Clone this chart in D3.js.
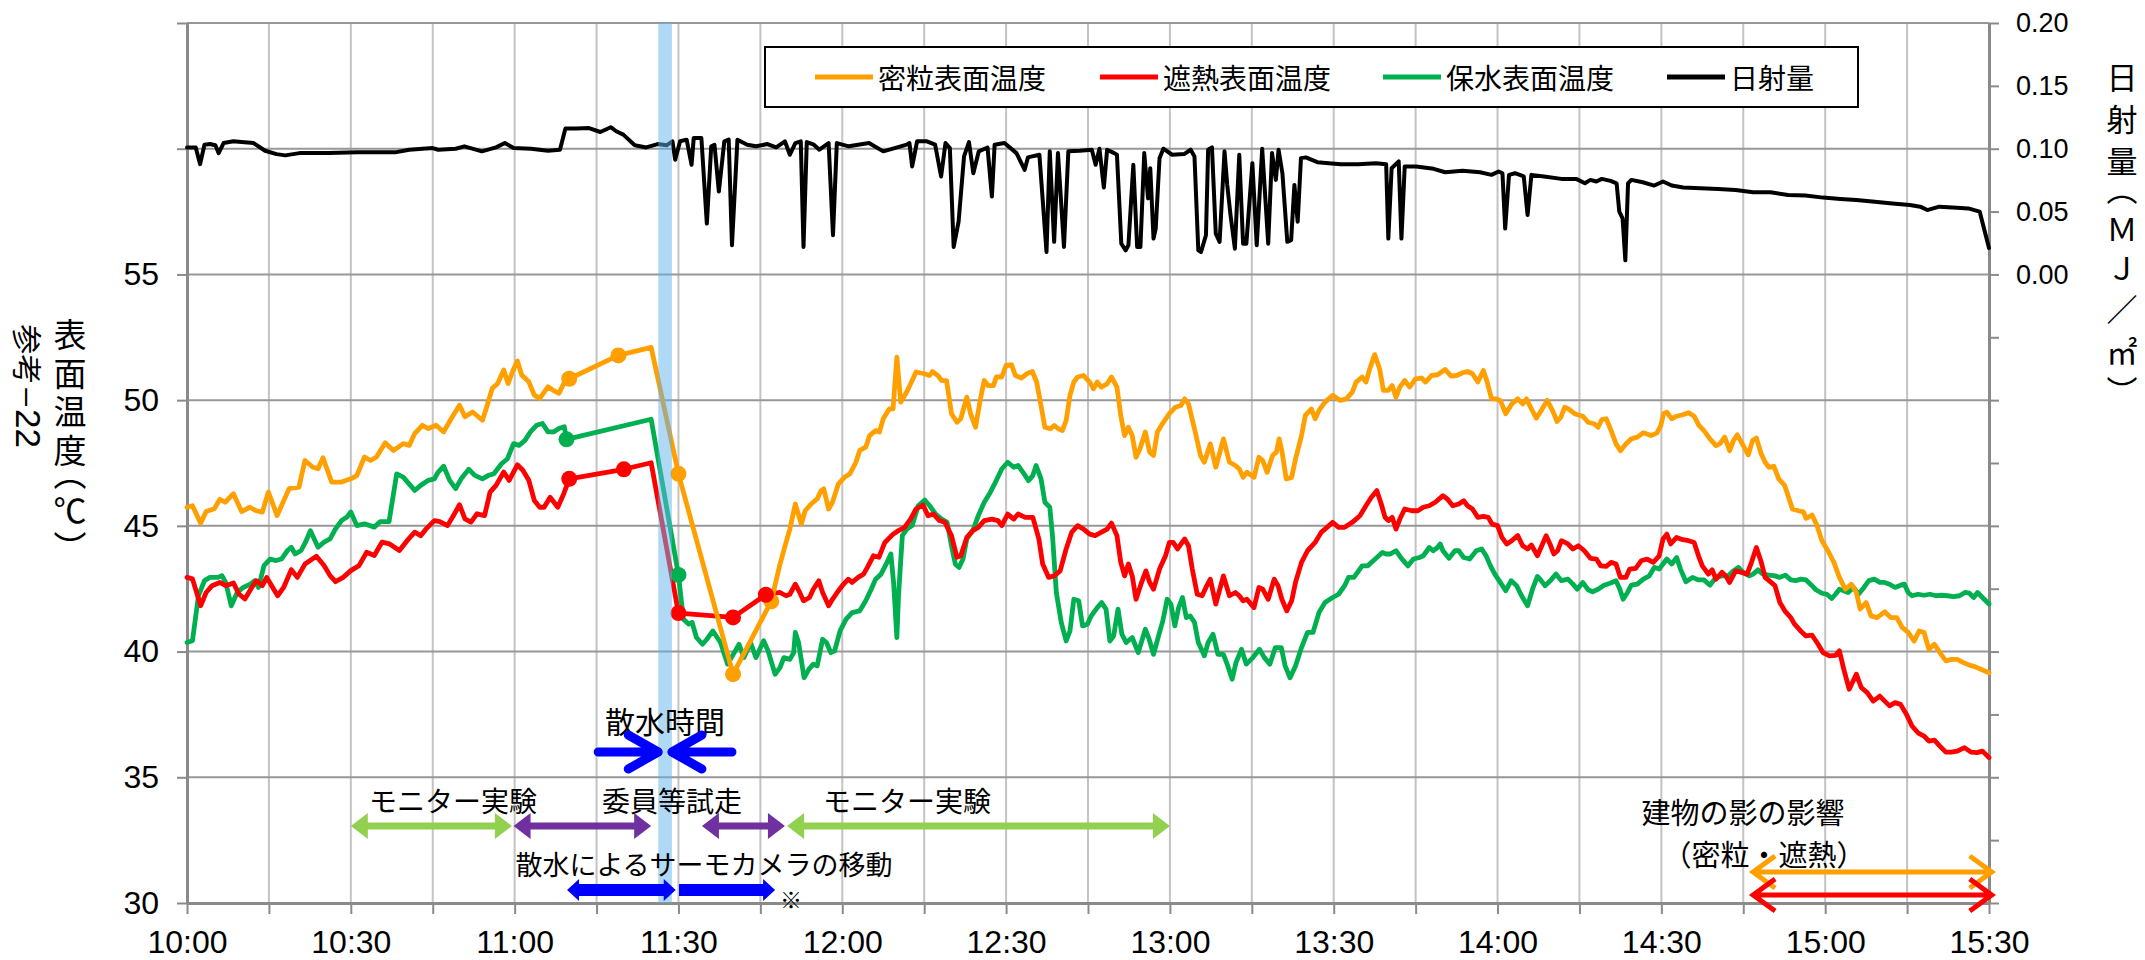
<!DOCTYPE html>
<html>
<head>
<meta charset="utf-8">
<script src="https://cdn.jsdelivr.net/npm/d3@7"></script>
<style>
  html, body { margin: 0; padding: 0; background: #fff; }
  svg { display: block; }
  .cjk { font-family: "Noto Sans CJK JP", "Noto Sans CJK SC", sans-serif; fill: #000; }
  .num { font-family: "Liberation Sans", Arial, sans-serif; fill: #000; }
  .vtitle { writing-mode: vertical-rl; text-orientation: mixed; font-feature-settings: "vpal" 1; }
</style>
</head>
<body>
<svg id="chart" width="2145" height="960"></svg>
<script>
// ---- series: [minutes after 10:00, value] ----
const seriesNames = ["密粒表面温度", "遮熱表面温度", "保水表面温度", "日射量"];

const dense = [ // 密粒 surface temperature (°C)
[0,45.74],[1,45.8],[2.5,45.1],[3.5,45.57],[5,45.68],[6,46.05],[7,45.94],[8.5,46.28],[10,45.57],[11.5,45.74],[12.7,45.6],[13.8,45.55],[14.9,46.34],[16.5,45.41],[18.7,46.48],[20.5,46.54],[21.6,47.6],[23,47.34],[24,47.27],[24.9,47.71],[26.5,46.74],[28.3,46.74],[30,46.87],[31.1,47.0],[32.5,47.74],[33.6,47.6],[34.7,47.74],[36.3,48.3],[37.8,48.0],[39.6,48.27],[40.7,48.2],[41.7,48.67],[43.1,49.0],[44.2,48.87],[45.6,49.0],[47,48.74],[48.4,49.27],[49.9,49.8],[50.9,49.34],[52.3,49.53],[54.1,49.2],[54.8,49.67],[55.9,50.47],[56.9,50.66],[58,51.2],[58.8,50.66],[59.6,51.13],[60.5,51.56],[61.3,51.0],[62.6,50.73],[63.6,50.2],[64.6,50.07],[66.1,50.53],[67,50.4],[68.1,50.27],[69,50.66],[70,50.85],[79,51.78],[85,52.1],[90,47.07],[100,39.1],[107,42.0],[108.6,43.48],[109.7,44.34],[110.4,44.87],[111.4,45.87],[112.5,45.07],[113.2,45.6],[114.3,45.87],[115.4,46.07],[116.1,46.4],[116.6,46.47],[117.5,45.67],[118.2,45.94],[119.3,46.67],[120.4,46.93],[121.4,47.07],[122.5,47.53],[123.2,48.0],[124.3,48.13],[125,48.59],[126.1,48.79],[126.8,48.73],[127.5,49.26],[128.6,49.65],[129.3,49.65],[130,51.71],[130.7,49.92],[131.8,50.32],[132.8,50.78],[133.5,51.12],[135,51.05],[136,50.98],[136.5,51.14],[137.5,50.98],[138.2,50.78],[139.1,50.78],[140,49.46],[141,49.12],[141.7,49.26],[142.8,50.12],[143.5,49.46],[144.4,48.92],[145.3,50.05],[146,50.78],[146.7,50.58],[147.7,50.58],[148.2,50.92],[149.2,50.92],[150,51.38],[151,51.41],[151.7,50.98],[152.8,50.88],[153.8,51.05],[154.8,51.14],[155.6,50.72],[156.5,49.65],[157.1,48.92],[158.1,48.86],[158.8,48.99],[159.6,48.86],[160.3,48.79],[161,49.19],[161.7,50.19],[162.4,50.72],[163.1,50.92],[164.2,50.98],[165.3,50.72],[166,50.45],[166.7,50.72],[167.4,50.52],[168.5,50.65],[169.3,50.92],[170.3,50.52],[171,49.39],[171.7,48.59],[172.4,48.92],[173.1,48.59],[173.8,47.73],[174.5,48.06],[175.5,48.73],[176.3,47.93],[177,47.8],[177.7,48.73],[178.8,49.12],[179.9,49.46],[181,49.72],[182,49.79],[182.7,50.05],[183.4,49.85],[184.5,48.86],[185.6,47.8],[186.3,47.53],[187.4,48.26],[188.4,47.33],[189.8,48.46],[190.9,47.53],[192,47.4],[192.7,47.26],[193.4,46.93],[194.1,47.13],[195.4,46.93],[196.3,47.73],[197,47.6],[197.8,47.13],[198.8,47.8],[199.5,47.93],[200,48.46],[200.5,47.99],[201.3,46.87],[202.3,46.93],[203,47.66],[204.1,48.59],[204.8,49.39],[205.9,49.65],[206.6,49.26],[207.3,49.59],[208.4,49.92],[209.8,50.19],[211.2,49.99],[212.3,50.05],[213.4,50.32],[214.1,50.72],[215.2,50.92],[215.9,50.72],[216.6,51.25],[217.5,51.81],[218.4,51.25],[219.1,50.39],[220,50.39],[220.7,50.58],[221.4,50.12],[222.1,50.52],[223,50.78],[223.9,50.52],[225,50.85],[226.1,50.88],[226.8,50.72],[227.9,50.98],[229,51.01],[230.4,51.22],[231.5,50.96],[232.5,50.98],[233.6,51.09],[234.5,51.14],[235.4,51.05],[236.4,50.72],[237.4,51.18],[238.1,50.72],[238.9,50.05],[239.7,50.05],[240.5,49.99],[241.5,49.46],[242.6,49.85],[243.7,50.05],[244.6,49.85],[245.3,50.05],[246.2,49.65],[247.1,49.28],[248,49.59],[249.1,49.99],[250.2,49.52],[250.9,49.15],[251.6,49.32],[252.3,49.72],[253,49.65],[254.1,49.46],[255.6,49.36],[256.6,49.12],[257.7,49.06],[258.4,48.92],[259.1,49.23],[259.9,49.26],[260.8,48.79],[261.7,48.26],[262.5,47.99],[263.5,48.26],[264.5,48.46],[265.6,48.53],[266.7,48.7],[268.1,48.59],[269.2,48.7],[269.9,48.99],[270.4,49.46],[271,49.52],[271.9,49.26],[272.8,49.36],[273.9,49.42],[275,49.5],[276,49.36],[276.9,48.99],[277.8,48.79],[278.9,48.46],[280,48.19],[280.7,48.26],[281.6,48.53],[282.5,47.99],[283.2,48.39],[283.9,48.62],[285,48.19],[285.9,47.82],[286.7,48.39],[287.4,48.49],[288.3,47.86],[289,47.53],[289.7,47.33],[290.6,47.37],[291.5,46.87],[292.6,46.6],[293.3,46.14],[294,45.67],[295.1,45.6],[296,45.56],[296.5,45.3],[297.6,45.43],[298.5,45.01],[299.4,44.41],[300.5,44.01],[301.6,43.55],[302.6,42.95],[303.7,42.48],[304.8,42.68],[305.7,42.35],[306.4,41.69],[307.5,41.95],[308.4,41.42],[309.5,41.35],[310.9,41.58],[312,41.35],[313.1,41.35],[314.1,40.96],[315.2,40.76],[316.3,40.42],[317.2,40.82],[318.1,40.76],[319,40.09],[320,40.29],[321,39.96],[322.1,39.63],[323.1,39.69],[324.2,39.69],[325.3,39.56],[326.4,39.46],[327.4,39.4],[328.5,39.3],[330,39.16]
];

const shield = [ // 遮熱 surface temperature (°C)
[0,42.95],[1,42.89],[2.5,41.82],[3.5,42.35],[4.6,42.62],[6,42.75],[7.1,42.62],[8.5,42.73],[9.5,42.29],[10.6,42.09],[11.7,42.49],[12.7,42.82],[13.8,42.62],[14.6,42.95],[15.5,42.62],[16.6,42.22],[17.7,42.55],[19.1,43.26],[20.2,42.95],[21.6,43.48],[23.7,43.79],[25.1,43.42],[26.2,43.02],[27.2,42.78],[28.6,42.95],[30,43.22],[31.5,43.42],[32.9,43.95],[34.3,43.82],[35.7,44.35],[37.1,44.28],[38.9,44.02],[40.3,44.41],[41.7,44.75],[42.8,44.61],[43.8,44.88],[45.3,45.21],[46.3,45.17],[47.7,45.01],[48.8,45.41],[49.9,45.84],[50.9,45.28],[52,45.15],[53.1,45.48],[54.5,45.41],[55.5,46.34],[56.6,46.61],[58,47.14],[59,46.81],[59.8,47.14],[60.5,47.43],[61.5,47.21],[62.6,46.81],[63.6,46.01],[64.6,45.74],[65.4,45.74],[66.5,46.14],[67.9,45.74],[69,46.28],[70,46.87],[80,47.25],[85,47.51],[90,41.53],[100,41.36],[106,42.26],[108.6,42.35],[109.7,42.22],[110.4,42.28],[111.4,42.68],[112.2,42.35],[112.9,42.02],[114,42.15],[114.7,42.48],[115.7,42.82],[116.4,42.35],[117.5,41.82],[118.2,42.08],[119.3,42.42],[120,42.62],[121.1,42.88],[121.8,42.75],[122.9,42.95],[123.9,43.08],[124.6,43.35],[125.7,43.81],[126.7,43.75],[127.8,44.34],[129.3,44.67],[130.3,44.81],[131.4,44.94],[132.5,45.27],[133.5,45.67],[134.8,45.83],[135.7,45.4],[136.7,45.47],[137.8,45.21],[138.8,45.14],[140,44.61],[141,43.75],[141.7,43.81],[142.8,44.54],[143.9,44.81],[144.9,44.94],[146,45.21],[147.4,45.27],[148.5,45.21],[149.2,45.01],[150.3,45.47],[151.4,45.27],[152.2,45.47],[153.5,45.34],[154.9,45.34],[156,44.48],[156.7,43.48],[157.8,42.95],[158.8,43.01],[159.9,43.21],[161,44.08],[162,44.74],[163.1,45.01],[164.2,44.87],[165.3,44.67],[166.3,44.61],[167.4,44.74],[168.5,44.87],[169.3,45.11],[170.3,44.61],[171,43.55],[171.7,43.01],[172.4,43.48],[173.1,43.01],[173.8,42.08],[174.7,42.68],[175.6,43.21],[176.3,42.75],[177,42.48],[178.1,43.28],[179.2,43.81],[179.9,44.34],[180.6,44.34],[181.4,44.08],[182.7,44.48],[183.4,44.21],[184.1,43.28],[185,42.28],[185.9,42.22],[186.6,42.55],[187.4,42.88],[188.4,41.89],[189.8,43.01],[190.9,42.22],[192,42.35],[192.7,42.22],[193.4,42.02],[194.1,42.08],[195.4,41.75],[196.3,42.55],[197,42.48],[198,42.08],[199.1,42.88],[199.8,42.62],[200.5,42.08],[201.4,41.62],[202.3,42.02],[203,42.75],[204.1,43.55],[205.2,44.01],[206.6,44.34],[207.7,44.74],[208.4,44.87],[209.8,45.14],[210.9,44.94],[212,44.94],[213.4,45.14],[214.8,45.4],[215.9,45.8],[216.9,46.14],[217.9,46.4],[218.7,45.87],[219.4,45.34],[220,45.21],[220.7,45.34],[221.4,44.87],[222.1,45.27],[223,45.67],[224.3,45.6],[225.4,45.6],[226.4,45.74],[227.5,45.8],[228.6,45.94],[230,46.2],[230.8,46.07],[231.8,45.8],[232.9,45.87],[233.8,46.0],[234.5,45.8],[235.4,45.67],[236.4,45.34],[237.4,45.38],[238.3,45.34],[239,45.07],[240,45.01],[240.8,44.54],[241.7,44.28],[242.6,44.41],[243.7,44.61],[244.6,44.21],[245.5,44.08],[246.2,44.24],[247.3,43.81],[248.1,44.21],[248.9,44.61],[249.6,44.28],[250.3,43.88],[251,44.01],[251.7,44.41],[252.9,44.28],[253.8,44.08],[254.8,44.21],[255.9,44.01],[257,43.71],[258.1,43.68],[258.9,43.41],[259.9,43.39],[260.8,43.55],[261.7,43.48],[262.5,42.95],[263.5,42.95],[264.2,43.28],[265.3,43.31],[266.3,43.61],[267.4,43.68],[268.5,43.55],[269.6,43.81],[270.3,44.48],[271,44.67],[271.7,44.28],[272.8,44.54],[273.9,44.45],[275,44.41],[276,44.34],[276.8,43.81],[277.5,43.41],[278.6,43.08],[279.3,43.25],[280,42.88],[281.1,43.15],[281.8,43.01],[282.5,42.75],[283.6,43.21],[284.7,43.15],[285.7,43.08],[286.5,43.55],[287.4,44.14],[288.3,43.55],[289,42.95],[290.1,42.75],[290.8,42.62],[291.7,41.95],[292.6,41.62],[293.7,41.35],[294.4,41.09],[295.5,40.82],[296.5,40.62],[297.6,40.65],[298.7,40.29],[299.6,39.96],[300.8,39.83],[301.9,39.85],[302.6,40.03],[303.4,39.3],[304.4,38.5],[305.7,39.1],[306.6,38.57],[307.7,38.37],[308.8,38.03],[310,38.23],[310.9,38.03],[311.8,37.84],[312.8,37.97],[313.8,37.9],[314.9,37.5],[315.9,37.04],[317,36.77],[318.1,36.64],[319,36.44],[320,36.48],[321,36.24],[322.1,36.0],[323.1,36.0],[324.2,36.04],[325.5,36.18],[326.7,36.0],[327.8,35.98],[328.8,36.04],[330,35.78]
];

const retain = [ // 保水 surface temperature (°C)
[0,40.36],[1,40.43],[2.1,42.22],[3.2,42.82],[4.2,42.95],[5.7,42.95],[6.4,43.02],[7.1,42.75],[8.1,41.82],[9.2,42.35],[10.3,42.55],[11.7,42.69],[12.4,42.82],[13.1,42.55],[14.1,43.42],[15.2,43.68],[16.3,43.62],[17.3,43.68],[18.4,44.02],[19.1,44.15],[19.8,43.88],[20.9,44.02],[21.7,44.35],[22.6,44.81],[24,44.15],[25.1,44.35],[26.2,44.48],[27.2,44.88],[28.3,45.21],[29.3,45.35],[30,45.55],[31.1,45.01],[32.5,45.08],[34.3,44.95],[35.4,45.17],[37,45.17],[38.4,47.07],[39.6,46.94],[41.7,46.41],[42.8,46.61],[44.2,46.81],[45.3,46.87],[46,47.14],[47,47.37],[48.1,46.81],[49.2,46.48],[50.2,46.87],[51.6,47.25],[52.7,47.01],[54.1,46.87],[55.2,47.01],[56.2,47.07],[57.6,47.47],[58.7,47.67],[59.8,48.27],[60.8,48.2],[61.9,48.4],[62.9,48.74],[64,49.0],[65.1,49.07],[66.1,48.74],[67.2,48.74],[68.1,48.87],[69.1,48.94],[69.5,48.44],[85,49.24],[90,43.05],[90.9,41.29],[91.9,41.09],[92.5,41.16],[93.3,40.56],[94.4,40.29],[95.2,40.49],[96.3,40.82],[97.7,40.36],[99,39.5],[101.1,40.29],[102,39.76],[103.2,40.36],[104.2,39.76],[105.6,40.43],[106.4,40.03],[107.7,39.1],[108.6,39.36],[109.3,39.76],[110.4,39.69],[111.1,39.96],[111.4,40.76],[112,40.36],[113,38.96],[113.9,39.3],[114.7,39.5],[115.4,39.43],[116.4,40.49],[117.1,40.36],[117.9,39.96],[118.6,40.03],[119.6,40.82],[120.7,41.29],[121.8,41.55],[123.2,41.62],[124.3,42.02],[125.3,42.48],[126.1,42.88],[127.1,43.08],[128.2,43.55],[128.9,43.88],[129.4,42.75],[130,40.56],[130.3,42.22],[131,44.61],[131.8,44.87],[132.8,45.01],[133.9,45.8],[135.1,46.03],[136,45.8],[137.1,45.47],[138.2,45.27],[139.2,45.14],[140,44.21],[140.7,43.48],[141.4,43.35],[142.1,43.68],[142.8,44.48],[143.9,44.81],[144.9,45.4],[146,45.94],[147.1,46.33],[148.2,46.8],[149.2,47.26],[150.3,47.53],[151.4,47.33],[152.2,47.4],[153.1,47.13],[154.1,46.8],[154.9,47.0],[155.5,47.4],[156.4,46.87],[157.1,45.94],[158,45.74],[158.5,44.61],[159.2,42.35],[160.1,41.16],[161,40.42],[161.7,40.82],[162.4,42.08],[163.3,42.02],[164,41.02],[164.9,41.09],[165.6,41.42],[166.7,41.75],[167.5,41.95],[168.3,41.69],[169,40.42],[169.7,40.62],[170.5,41.69],[171.2,40.69],[172,40.36],[173.1,40.56],[174.2,39.96],[175.5,40.89],[176.2,40.49],[177,39.89],[178.1,40.76],[178.7,41.22],[179.5,42.08],[180.2,41.88],[180.9,41.02],[181.6,41.75],[182.3,42.15],[183,41.35],[183.7,41.42],[184.5,41.16],[185.2,40.36],[186.3,39.83],[187,40.36],[187.9,40.69],[188.8,39.89],[189.8,39.89],[190.6,39.43],[191.4,38.9],[192.1,39.56],[193.1,40.09],[194,39.5],[195.2,39.76],[196.4,40.09],[197.3,39.76],[198.3,39.5],[199.3,40.16],[200.4,40.16],[201.1,39.43],[202,38.96],[203,39.43],[204.1,40.16],[205.2,40.76],[206.2,40.76],[207.3,41.55],[208.4,41.95],[209.8,42.15],[210.9,42.28],[212,42.62],[212.7,42.95],[213.7,42.95],[215.2,43.41],[216.2,43.41],[217.6,43.68],[218.9,43.94],[219.6,43.88],[220.3,43.88],[221.4,44.01],[222.5,43.68],[223.6,43.41],[224.6,43.68],[225.7,43.74],[226.4,43.81],[227.5,44.14],[228.2,44.01],[229,44.14],[229.5,44.28],[230,44.01],[231.1,43.71],[232.2,44.01],[232.9,44.01],[233.8,43.74],[234.9,43.68],[236.1,44.01],[237.1,44.08],[237.9,43.81],[238.7,43.41],[239.5,43.08],[240.5,42.75],[241.5,42.42],[242.5,42.82],[243.5,42.62],[244.4,42.22],[245.5,41.82],[246.4,42.48],[247.3,42.99],[248,42.82],[248.7,42.62],[249.8,42.85],[250.7,43.08],[251.7,42.82],[252.9,42.88],[253.8,42.68],[254.6,42.48],[255.6,42.75],[256.6,42.46],[257.4,42.38],[258.4,42.48],[259.5,42.64],[260.6,42.72],[261.7,42.82],[262.4,42.48],[263,42.08],[263.8,42.35],[264.5,42.64],[265.6,42.68],[266.7,42.88],[267.8,43.01],[268.7,43.35],[269.6,43.28],[270.3,43.48],[271,43.68],[271.9,43.48],[272.8,43.74],[273.5,43.28],[274.5,42.78],[275.7,42.95],[276.8,42.85],[277.8,42.85],[278.9,42.64],[280,42.95],[281.1,43.01],[282.2,43.01],[283.2,43.21],[284.1,43.35],[285,43.15],[286.1,43.01],[286.8,43.08],[287.7,43.25],[288.6,43.08],[289.7,43.04],[290.8,43.01],[291.7,42.95],[292.7,43.04],[293.7,42.85],[294.6,42.82],[295.6,42.88],[296.5,42.85],[297.5,42.64],[298.3,42.46],[299.4,42.32],[300.3,42.28],[301.2,42.11],[301.9,42.28],[302.6,42.48],[303.4,42.42],[304.2,42.35],[305.2,42.55],[306.1,42.28],[307.1,42.55],[308,42.82],[309,42.88],[310,42.75],[310.9,42.75],[311.8,42.68],[312.8,42.55],[313.8,42.64],[314.5,42.68],[315.2,42.35],[315.9,42.22],[317,42.28],[318.1,42.24],[319.2,42.28],[320.3,42.22],[321.3,42.24],[322.4,42.22],[323.5,42.19],[324.6,42.22],[325.6,42.35],[326.4,42.32],[327.2,42.15],[327.9,42.35],[328.8,42.15],[330,41.89]
];

const solar = [ // 日射量 (MJ/㎡)
[0,0.101],[1.6,0.101],[2.4,0.0877],[3.2,0.1032],[4.2,0.1037],[5.2,0.1027],[5.8,0.0965],[6.7,0.1045],[8.5,0.1059],[10,0.1053],[12.2,0.1045],[14.3,0.0984],[16.4,0.0957],[18,0.0947],[20.6,0.0965],[25.9,0.0965],[31.2,0.0971],[38.1,0.0971],[40.7,0.0992],[45,0.1005],[46,0.0992],[49.2,0.1],[50.8,0.1019],[54,0.0979],[56.6,0.1011],[58.2,0.1045],[59.8,0.1005],[63,0.1],[66.1,0.0984],[68.3,0.0992],[69.3,0.116],[71.4,0.116],[73.5,0.1165],[75.7,0.1133],[77.6,0.1171],[78.6,0.1139],[79.9,0.1112],[82,0.1027],[84.1,0.101],[86.2,0.1037],[87.8,0.1027],[88.9,0.1059],[89.4,0.0912],[90.3,0.1059],[91.5,0.1072],[92.4,0.0872],[92.8,0.1085],[94.2,0.1085],[95.2,0.0405],[96,0.1019],[96.6,0.103],[97.4,0.0659],[98.4,0.1059],[99.2,0.1072],[99.8,0.0232],[100.8,0.1072],[102.6,0.1032],[104.2,0.1019],[106.3,0.1037],[107.9,0.101],[109.5,0.1059],[110.4,0.0952],[111.4,0.1045],[112.4,0.1059],[112.9,0.0219],[113.5,0.1053],[114.8,0.1032],[115.8,0.0992],[117.5,0.1045],[118.3,0.0312],[119,0.1045],[121.2,0.1019],[124.9,0.1045],[127.5,0.0979],[129.6,0.1005],[131.8,0.1032],[132.3,0.1045],[132.8,0.0859],[133.7,0.1059],[135.5,0.1059],[137,0.1032],[138.1,0.0779],[138.9,0.1045],[139.7,0.1005],[140.4,0.0219],[141.3,0.0419],[142.3,0.0939],[143.2,0.1053],[144,0.0805],[145,0.0979],[146.6,0.101],[147.4,0.0619],[147.9,0.1032],[149.7,0.1045],[151.9,0.0965],[153.4,0.0832],[154,0.0931],[156.1,0.0952],[157.4,0.0179],[158,0.0979],[158.8,0.0259],[159.5,0.0965],[160.6,0.0219],[161.4,0.0979],[163.5,0.0984],[165.7,0.0992],[166.4,0.0872],[167.1,0.1],[167.9,0.0691],[168.5,0.0992],[169.8,0.0965],[170.3,0.0952],[171.1,0.0245],[171.9,0.0192],[172.4,0.0232],[173.3,0.0872],[174,0.0219],[174.6,0.0219],[175.3,0.0965],[176,0.0605],[176.4,0.0845],[177,0.0285],[177.4,0.0365],[178.1,0.0925],[178.8,0.1],[180.4,0.0952],[182.6,0.0957],[183.8,0.0992],[184.5,0.0939],[185.2,0.0192],[185.7,0.0179],[186.6,0.0312],[187,0.0992],[187.7,0.1011],[188.4,0.0325],[189.1,0.0259],[190,0.0979],[190.5,0.0712],[191.1,0.0472],[191.9,0.0205],[192.7,0.0952],[193.4,0.0245],[194,0.0245],[195.1,0.0885],[195.9,0.0232],[196.9,0.1],[198,0.0245],[198.7,0.0965],[199.4,0.0752],[199.9,0.0992],[200.6,0.0805],[201.5,0.0259],[202.2,0.0272],[202.8,0.0712],[203.4,0.0419],[204,0.0925],[204.9,0.0931],[207,0.0893],[209.1,0.0885],[211.3,0.0877],[214.5,0.0877],[217.7,0.0885],[219.6,0.0877],[220,0.0285],[220.6,0.0845],[221.9,0.0899],[222.4,0.0285],[223,0.0859],[225.1,0.0859],[228.3,0.084],[230.4,0.0813],[233.6,0.0824],[236.8,0.0813],[238.9,0.0792],[240.2,0.0819],[240.9,0.0805],[241.4,0.0365],[242.1,0.0792],[243.2,0.0805],[244.8,0.0779],[245.5,0.0472],[246.2,0.0792],[248.5,0.0779],[251.7,0.076],[254.4,0.076],[256,0.0725],[257,0.0752],[258.1,0.0739],[259.1,0.076],[260.7,0.0744],[261.8,0.0725],[262.3,0.0499],[262.9,0.0445],[263.4,0.0112],[263.9,0.0725],[264.5,0.0752],[266.6,0.0733],[268.7,0.0707],[270.3,0.0739],[271.9,0.0707],[274,0.0691],[277.2,0.0685],[280.4,0.068],[283.6,0.0672],[286.8,0.0653],[290,0.0653],[293.2,0.0632],[296.4,0.0627],[299.6,0.0611],[302.8,0.06],[305.7,0.0592],[309.1,0.0579],[312.3,0.0565],[315.5,0.0552],[317.4,0.0539],[318.7,0.0512],[320.9,0.0539],[324.1,0.0531],[326.2,0.0525],[328.3,0.0499],[330,0.0211]
];

// spot readings drawn with round markers
const denseMarks  = [70, 79, 90, 100, 107];
const shieldMarks = [70, 80, 90, 100, 106];
const retainMarks = [69.5, 90];

// axis ticks
const tempTicks  = [30, 35, 40, 45, 50, 55, 60, 65];
const tempLabels = [30, 35, 40, 45, 50, 55];
const solarTicks = d3.range(-10, 5).map(i => i / 20);
const timeTicks  = d3.range(0, 331, 15);

// time spans (minutes after 10:00)
const sprinkle = [86.3, 88.8];
const phases = [
  { from: 30,    to: 59.5,  color: "#92d050" },
  { from: 59.8,  to: 85,    color: "#7030a0" },
  { from: 94.3,  to: 109.5, color: "#7030a0" },
  { from: 109.9, to: 180,   color: "#92d050" }
];
const cameraMoves = [[69.6, 89.5, true], [90.1, 107.7, false]];
const shadeSpan = [286.8, 330.5];

// ---- layout ----
const svg = d3.select("#chart");
const P = { left: 187, right: 1989, top: 23, bottom: 903 };
const base = new Date(2000, 0, 1, 10, 0, 0);
const at = m => new Date(base.getTime() + m * 60000);

const x  = d3.scaleTime().domain([at(0), at(330)]).range([P.left, P.right]);
const yT = d3.scaleLinear().domain([30, 65]).range([P.bottom, P.top]);
const yS = d3.scaleLinear().domain([-0.5, 0.2]).range([P.bottom, P.top]);
const xm = m => x(at(m));

const C = { dense: "#ff9f00", shield: "#ff0000", retain: "#00b050", solar: "#000000" };

// gridlines
const grid = svg.append("g");
grid.selectAll("line.v").data(timeTicks).join("line")
  .attr("x1", d => xm(d)).attr("x2", d => xm(d))
  .attr("y1", P.top).attr("y2", P.bottom)
  .attr("stroke", "#c3c3c3").attr("stroke-width", 2);
grid.selectAll("line.h").data(tempTicks).join("line")
  .attr("x1", P.left).attr("x2", P.right)
  .attr("y1", d => yT(d)).attr("y2", d => yT(d))
  .attr("stroke", "#979797").attr("stroke-width", 2);

// axes
const axisColor = "#8a8a8a";
function styleAxis(g) {
  g.select(".domain").attr("stroke", axisColor).attr("stroke-width", 3);
  g.selectAll(".tick line").attr("stroke", axisColor).attr("stroke-width", 2);
}
const gL = svg.append("g").attr("transform", `translate(${P.left},0)`)
  .call(d3.axisLeft(yT).tickValues(tempTicks).tickSize(10).tickSizeOuter(0).tickPadding(18)
    .tickFormat(d => tempLabels.includes(d) ? d : ""));
styleAxis(gL);
gL.selectAll("text").attr("class", "num").style("font-size", "32px").attr("font-family", null);

const gR = svg.append("g").attr("transform", `translate(${P.right},0)`)
  .call(d3.axisRight(yS).tickValues(solarTicks).tickSize(10).tickSizeOuter(0).tickPadding(17)
    .tickFormat(d => d > -1e-9 ? d3.format(".2f")(Math.abs(d) < 1e-9 ? 0 : d) : ""));
styleAxis(gR);
gR.selectAll("text").attr("class", "num").style("font-size", "27px").attr("font-family", null);

const gB = svg.append("g").attr("transform", `translate(0,${P.bottom})`)
  .call(d3.axisBottom(x).tickValues(timeTicks.map(at)).tickSize(11).tickSizeOuter(0).tickPadding(16)
    .tickFormat((d, i) => timeTicks[i] % 30 === 0 ? d3.timeFormat("%H:%M")(d) : ""));
styleAxis(gB);
gB.selectAll("text").attr("class", "num").style("font-size", "32px").attr("font-family", null);

// lines
const tLine = d3.line().x(d => xm(d[0])).y(d => yT(d[1]));
const sLine = d3.line().x(d => xm(d[0])).y(d => yS(d[1]));
const plot = svg.append("g").attr("fill", "none").attr("stroke-linejoin", "round").attr("stroke-linecap", "round");
plot.append("path").datum(solar).attr("d", sLine).attr("stroke", C.solar).attr("stroke-width", 4);
plot.append("path").datum(retain).attr("d", tLine).attr("stroke", C.retain).attr("stroke-width", 4.8);
plot.append("path").datum(shield).attr("d", tLine).attr("stroke", C.shield).attr("stroke-width", 4.8);
plot.append("path").datum(dense).attr("d", tLine).attr("stroke", C.dense).attr("stroke-width", 4.8);

function marks(series, mins, color) {
  const pts = series.filter(d => mins.includes(d[0]));
  svg.append("g").selectAll("circle").data(pts).join("circle")
    .attr("cx", d => xm(d[0])).attr("cy", d => yT(d[1])).attr("r", 8).attr("fill", color);
}
marks(retain, retainMarks, C.retain);
marks(dense, denseMarks, C.dense);
marks(shield, shieldMarks, C.shield);

// sprinkling period band
svg.append("rect")
  .attr("x", xm(sprinkle[0])).attr("width", xm(sprinkle[1]) - xm(sprinkle[0]))
  .attr("y", P.top).attr("height", P.bottom - P.top)
  .attr("fill", "#62b4ee").attr("opacity", 0.5);

// ---- annotations ----
const ann = svg.append("g");
function blockArrow(x1, x2, y, shaft, hl, hh, left, right) {
  const s = shaft / 2, a = left ? x1 + hl : x1, b = right ? x2 - hl : x2;
  let p = `M${a},${y - s}L${b},${y - s}`;
  if (right) p += `L${b},${y - hh}L${x2},${y}L${b},${y + hh}`;
  p += `L${b},${y + s}L${a},${y + s}`;
  if (left) p += `L${a},${y + hh}L${x1},${y}L${a},${y - hh}`;
  return p + "Z";
}
function label(txt, cx, cy, size) {
  ann.append("text").attr("class", "cjk").attr("x", cx).attr("y", cy)
    .attr("text-anchor", "middle").attr("dominant-baseline", "central")
    .style("font-size", size + "px").text(txt);
}

// 散水時間 with converging arrows
label("散水時間", xm((sprinkle[0] + sprinkle[1]) / 2), 720, 30);
[[sprinkle[0] - 11, sprinkle[0]], [sprinkle[1] + 11, sprinkle[1]]].forEach(([from, tip]) => {
  const x1 = xm(from), x2 = xm(tip), dir = x2 > x1 ? 1 : -1;
  ann.append("path")
    .attr("d", `M${x1},752L${x2 - dir * 4},752M${x2 - dir * 30},735L${x2},752L${x2 - dir * 30},769`)
    .attr("fill", "none").attr("stroke", "#0000ff").attr("stroke-width", 9)
    .attr("stroke-linecap", "round").attr("stroke-linejoin", "round");
});

// experiment phases
phases.forEach(p => {
  ann.append("path").attr("d", blockArrow(xm(p.from), xm(p.to), 826, 7, 17, 13, true, true))
    .attr("fill", p.color);
});
label("モニター実験", 453, 800, 28);
label("委員等試走", 672, 800, 28);
label("モニター実験", 907, 800, 28);

// thermal camera relocation
label("散水によるサーモカメラの移動", 704, 863, 27);
cameraMoves.forEach(([a, b, both]) => {
  ann.append("path").attr("d", blockArrow(xm(a), xm(b), 890, 12, 12, 11, both, true))
    .attr("fill", "#0000ff");
});
label("※", xm(cameraMoves[1][1]) + 16, 898, 22);

// building shade
label("建物の影の影響", 1743, 811, 29);
label("（密粒・遮熱）", 1764, 853, 29);
[[872, C.dense], [895, C.shield]].forEach(([yy, col]) => {
  const a = xm(shadeSpan[0]), b = xm(shadeSpan[1]);
  ann.append("path")
    .attr("d", `M${a},${yy}L${b},${yy}M${a + 22},${yy - 16}L${a},${yy}L${a + 22},${yy + 16}M${b - 22},${yy - 16}L${b},${yy}L${b - 22},${yy + 16}`)
    .attr("fill", "none").attr("stroke", col).attr("stroke-width", 5)
    .attr("stroke-linejoin", "miter").attr("stroke-linecap", "butt");
});

// ---- legend ----
const lg = svg.append("g");
lg.append("rect").attr("x", 765).attr("y", 47).attr("width", 1093).attr("height", 60)
  .attr("fill", "#fff").attr("stroke", "#000").attr("stroke-width", 2);
const legendX = [815, 1100, 1383, 1667];
const legendC = [C.dense, C.shield, C.retain, C.solar];
seriesNames.forEach((n, i) => {
  lg.append("line").attr("x1", legendX[i]).attr("x2", legendX[i] + 58)
    .attr("y1", 77).attr("y2", 77).attr("stroke", legendC[i]).attr("stroke-width", 5);
  lg.append("text").attr("class", "cjk").attr("x", legendX[i] + 63).attr("y", 77)
    .attr("dominant-baseline", "central").style("font-size", "28px").text(n);
});

// ---- axis titles, set in vertical writing ----
svg.append("text").attr("class", "cjk vtitle")
  .attr("x", 70).attr("y", 318)
  .style("font-size", "33px").style("letter-spacing", "5.5px")
  .text("表面温度（℃）");
svg.append("text").attr("class", "cjk vtitle")
  .attr("x", 2122).attr("y", 62)
  .style("font-size", "31px").style("letter-spacing", "11px")
  .text("日射量（ＭＪ／㎡）");

const note = svg.append("text").attr("class", "cjk")
  .attr("transform", "translate(29,386) rotate(90)")
  .attr("text-anchor", "middle").attr("dominant-baseline", "central")
  .style("font-size", "30px");
note.append("tspan").text("参考");
note.append("tspan").attr("class", "num").attr("dx", 4).style("font-size", "32px").text("–");
note.append("tspan").attr("class", "num").attr("dx", 3).style("font-size", "35px").text("22");
</script>
</body>
</html>
